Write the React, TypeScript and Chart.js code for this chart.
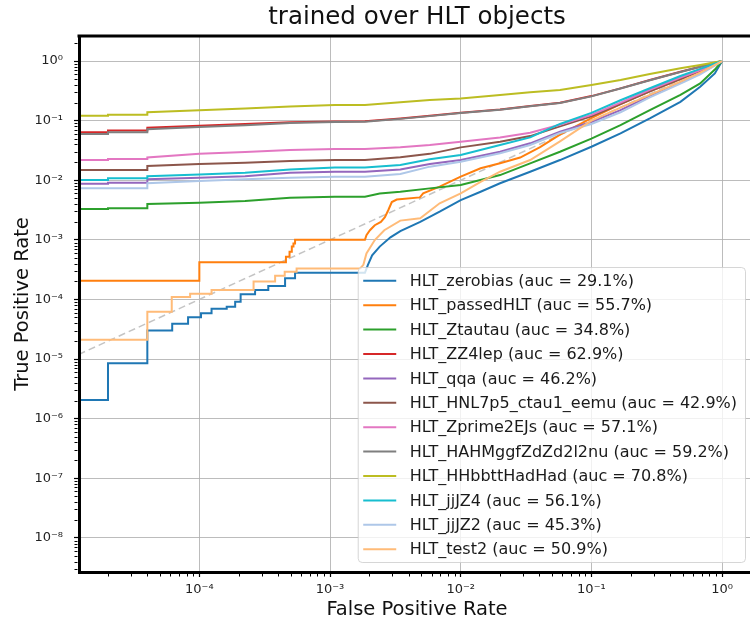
import React, { useEffect, useRef } from 'react';
import { Chart, registerables } from 'chart.js';

Chart.register(...registerables);

type Pt = [number, number];

// ---- data: ROC curves, [false positive rate, true positive rate] ----
const zerobias: Pt[] = [
  [1e-5, 2.05e-6], [2e-5, 2.05e-6], [2e-5, 8.5e-6], [4e-5, 8.5e-6], [4e-5, 3.0e-5],
  [6.2e-5, 3.0e-5], [6.2e-5, 3.9e-5], [8.2e-5, 3.9e-5], [8.2e-5, 5.0e-5], [1.03e-4, 5.0e-5],
  [1.03e-4, 5.85e-5], [1.24e-4, 5.85e-5], [1.24e-4, 7.0e-5], [1.62e-4, 7.0e-5], [1.62e-4, 7.55e-5],
  [1.88e-4, 7.55e-5], [1.88e-4, 9.15e-5], [2.07e-4, 9.15e-5], [2.07e-4, 1.22e-4], [2.67e-4, 1.22e-4],
  [2.67e-4, 1.44e-4], [3.37e-4, 1.44e-4], [3.37e-4, 1.68e-4], [4.53e-4, 1.68e-4], [4.53e-4, 2.26e-4],
  [5.4e-4, 2.26e-4], [5.4e-4, 2.8e-4], [1.85e-3, 2.8e-4], [1.95e-3, 3.8e-4], [2.1e-3, 5.5e-4],
  [2.4e-3, 7.7e-4], [2.9e-3, 1.1e-3], [3.45e-3, 1.4e-3], [4.9e-3, 2.0e-3], [6.9e-3, 2.96e-3],
  [1e-2, 4.65e-3], [1.42e-2, 6.4e-3], [2e-2, 8.9e-3], [3.4e-2, 1.39e-2], [5.75e-2, 2.18e-2],
  [0.1, 3.65e-2], [0.167, 6.1e-2], [0.28, 0.109], [0.48, 0.207], [0.68, 0.37], [0.88, 0.62], [1, 1],
];
const passedHLT: Pt[] = [
  [1e-5, 2.06e-4], [1e-4, 2.06e-4], [1e-4, 4.2e-4], [4.6e-4, 4.2e-4], [4.6e-4, 5.2e-4],
  [4.9e-4, 5.2e-4], [4.9e-4, 6.3e-4], [5.1e-4, 6.3e-4], [5.1e-4, 7.7e-4], [5.25e-4, 7.7e-4],
  [5.25e-4, 8.7e-4], [5.4e-4, 8.7e-4], [5.4e-4, 1.0e-3], [1.85e-3, 1.0e-3], [1.9e-3, 1.2e-3],
  [2.02e-3, 1.45e-3], [2.2e-3, 1.76e-3], [2.45e-3, 2.0e-3], [2.63e-3, 2.4e-3], [2.8e-3, 3.2e-3],
  [2.97e-3, 4.3e-3], [3.24e-3, 4.75e-3], [4.87e-3, 5.15e-3], [5.16e-3, 6.0e-3], [6.9e-3, 7.8e-3],
  [1e-2, 1.15e-2], [1.42e-2, 1.59e-2], [2e-2, 1.93e-2], [2.85e-2, 2.4e-2], [4.05e-2, 3.6e-2],
  [5.75e-2, 5.8e-2], [0.1, 0.11], [0.167, 0.19], [0.28, 0.31], [0.48, 0.5], [0.68, 0.69], [1, 1],
];
const Ztautau: Pt[] = [
  [1e-5, 3.3e-3], [2e-5, 3.3e-3], [2e-5, 3.4e-3], [4e-5, 3.4e-3], [4e-5, 4.0e-3], [1e-4, 4.2e-3],
  [2.24e-4, 4.5e-3], [4.94e-4, 5.1e-3], [1.09e-3, 5.3e-3], [1.85e-3, 5.3e-3], [2.4e-3, 6.0e-3],
  [3.45e-3, 6.4e-3], [5.8e-3, 7.3e-3], [1e-2, 8.3e-3], [2e-2, 1.22e-2], [3.4e-2, 1.92e-2],
  [5.75e-2, 3.0e-2], [0.1, 5.0e-2], [0.167, 8.4e-2], [0.28, 0.15], [0.48, 0.27], [0.68, 0.42],
  [0.88, 0.72], [1, 1],
];
const ZZ4lep: Pt[] = [
  [1e-5, 0.0636], [2e-5, 0.0636], [2e-5, 0.068], [4e-5, 0.068], [4e-5, 0.076], [1e-4, 0.082],
  [2.24e-4, 0.0876], [4.94e-4, 0.094], [1.09e-3, 0.097], [1.85e-3, 0.098], [3.45e-3, 0.109],
  [5.8e-3, 0.121], [1e-2, 0.136], [2e-2, 0.154], [3.4e-2, 0.176], [5.75e-2, 0.2], [0.1, 0.258],
  [0.167, 0.348], [0.28, 0.48], [0.48, 0.66], [0.68, 0.8], [1, 1],
];
const qqa: Pt[] = [
  [1e-5, 0.0087], [2e-5, 0.0087], [2e-5, 0.0091], [4e-5, 0.0091], [4e-5, 0.0104], [1e-4, 0.011],
  [2.24e-4, 0.0117], [4.94e-4, 0.0134], [1.09e-3, 0.0139], [1.85e-3, 0.0139], [3.45e-3, 0.0152],
  [5.8e-3, 0.0187], [1e-2, 0.0218], [2e-2, 0.03], [3.4e-2, 0.0416], [5.75e-2, 0.065], [0.1, 0.095],
  [0.167, 0.15], [0.28, 0.26], [0.48, 0.44], [0.68, 0.62], [1, 1],
];
const HNL7p5: Pt[] = [
  [1e-5, 0.0148], [4e-5, 0.0148], [4e-5, 0.0173], [1e-4, 0.0187], [2.24e-4, 0.0196], [4.94e-4, 0.021],
  [1.09e-3, 0.0218], [1.85e-3, 0.0218], [3.45e-3, 0.0242], [5.8e-3, 0.0277], [1e-2, 0.0356],
  [2e-2, 0.0443], [3.4e-2, 0.055], [5.75e-2, 0.08], [0.1, 0.118], [0.167, 0.19], [0.28, 0.31],
  [0.48, 0.5], [0.68, 0.68], [1, 1],
];
const Zprime2EJs: Pt[] = [
  [1e-5, 0.0218], [2e-5, 0.0218], [2e-5, 0.0226], [4e-5, 0.0226], [4e-5, 0.0241], [1e-4, 0.0277],
  [2.24e-4, 0.0297], [4.94e-4, 0.0321], [1.09e-3, 0.0334], [1.85e-3, 0.0334], [3.45e-3, 0.0356],
  [5.8e-3, 0.039], [1e-2, 0.0443], [2e-2, 0.0523], [3.4e-2, 0.0627], [5.75e-2, 0.085], [0.1, 0.125],
  [0.167, 0.2], [0.28, 0.33], [0.48, 0.53], [0.68, 0.7], [1, 1],
];
const HAHMggfZdZd: Pt[] = [
  [1e-5, 0.0595], [2e-5, 0.0595], [2e-5, 0.064], [4e-5, 0.064], [4e-5, 0.072], [1e-4, 0.078],
  [2.24e-4, 0.084], [4.94e-4, 0.091], [1.09e-3, 0.095], [1.85e-3, 0.096], [3.45e-3, 0.107],
  [5.8e-3, 0.119], [1e-2, 0.134], [2e-2, 0.152], [3.4e-2, 0.174], [5.75e-2, 0.198], [0.1, 0.255],
  [0.167, 0.345], [0.28, 0.475], [0.48, 0.655], [0.68, 0.8], [1, 1],
];
const HHbbttHadHad: Pt[] = [
  [1e-5, 0.121], [2e-5, 0.121], [2e-5, 0.125], [4e-5, 0.125], [4e-5, 0.138], [1e-4, 0.15],
  [2.24e-4, 0.16], [4.94e-4, 0.172], [1.09e-3, 0.183], [1.85e-3, 0.183], [3.45e-3, 0.203],
  [5.8e-3, 0.221], [1e-2, 0.236], [2e-2, 0.269], [3.4e-2, 0.298], [5.75e-2, 0.326], [0.1, 0.395],
  [0.167, 0.48], [0.28, 0.605], [0.48, 0.754], [0.68, 0.857], [1, 1],
];
const jjJZ4: Pt[] = [
  [1e-5, 0.0101], [2e-5, 0.0101], [2e-5, 0.0108], [4e-5, 0.0108], [4e-5, 0.0117], [1e-4, 0.0125],
  [2.24e-4, 0.0134], [4.94e-4, 0.0152], [1.09e-3, 0.0163], [1.85e-3, 0.0163], [3.45e-3, 0.018],
  [5.8e-3, 0.0224], [1e-2, 0.0265], [2e-2, 0.039], [3.4e-2, 0.0523], [5.75e-2, 0.088], [0.1, 0.135],
  [0.167, 0.22], [0.28, 0.35], [0.48, 0.56], [0.68, 0.74], [1, 1],
];
const jjJZ2: Pt[] = [
  [1e-5, 0.0073], [4e-5, 0.0073], [4e-5, 0.0089], [1e-4, 0.0097], [2.24e-4, 0.0104], [4.94e-4, 0.011],
  [1.09e-3, 0.0114], [1.85e-3, 0.0114], [3.45e-3, 0.0127], [5.8e-3, 0.0169], [1e-2, 0.0205],
  [2e-2, 0.0283], [3.4e-2, 0.039], [5.75e-2, 0.062], [0.1, 0.088], [0.167, 0.138], [0.28, 0.245],
  [0.48, 0.42], [0.68, 0.6], [1, 1],
];
const test2: Pt[] = [
  [1e-5, 2.1e-5], [4e-5, 2.1e-5], [4e-5, 6.2e-5], [6.15e-5, 6.2e-5], [6.15e-5, 1.1e-4], [8.5e-5, 1.1e-4],
  [8.5e-5, 1.25e-4], [1.24e-4, 1.25e-4], [1.24e-4, 1.44e-4], [2.6e-4, 1.44e-4], [2.6e-4, 2.0e-4],
  [3.8e-4, 2.0e-4], [3.8e-4, 2.5e-4], [4.5e-4, 2.5e-4], [4.5e-4, 2.9e-4], [5.55e-4, 2.9e-4],
  [5.55e-4, 3.3e-4], [1.7e-3, 3.3e-4], [1.8e-3, 3.8e-4], [1.9e-3, 5.9e-4], [2.2e-3, 9.9e-4],
  [2.6e-3, 1.45e-3], [3.45e-3, 2.1e-3], [4.9e-3, 2.3e-3], [6.9e-3, 4.1e-3], [1e-2, 6.0e-3],
  [1.42e-2, 9.4e-3], [2e-2, 1.39e-2], [3.4e-2, 2.18e-2], [5.75e-2, 4.5e-2], [0.1, 0.1],
  [0.167, 0.165], [0.28, 0.27], [0.48, 0.45], [0.68, 0.64], [1, 1],
];
const chanceLine: Pt[] = [[1e-5, 1e-5], [1, 1]];

const triggerNames = [
  'HLT_zerobias', 'HLT_passedHLT', 'HLT_Ztautau', 'HLT_ZZ4lep', 'HLT_qqa', 'HLT_HNL7p5_ctau1_eemu',
  'HLT_Zprime2EJs', 'HLT_HAHMggfZdZd2l2nu', 'HLT_HHbbttHadHad', 'HLT_jjJZ4', 'HLT_jjJZ2', 'HLT_test2',
];
const aucPercent = [29.1, 55.7, 34.8, 62.9, 46.2, 42.9, 57.1, 59.2, 70.8, 56.1, 45.3, 50.9];
const rocCurves = [zerobias, passedHLT, Ztautau, ZZ4lep, qqa, HNL7p5, Zprime2EJs, HAHMggfZdZd, HHbbttHadHad, jjJZ4, jjJZ2, test2];

const xTickExponents = [-5, -4, -3, -2, -1, 0];
const yTickExponents = [-9, -8, -7, -6, -5, -4, -3, -2, -1, 0];
const X_MIN = 1.2e-5;
const X_MAX = 1.786;
const Y_MIN = 2.67e-9;
const Y_MAX = 2.63;

const TITLE = 'trained over HLT objects';
const X_LABEL = 'False Positive Rate';
const Y_LABEL = 'True Positive Rate';

// ---- styles ----
const lineColors = ['#1f77b4', '#ff7f0e', '#2ca02c', '#d62728', '#9467bd', '#8c564b', '#e377c2', '#7f7f7f', '#bcbd22', '#17becf', '#aec7e8', '#ffbb78'];
const FONT = "'DejaVu Sans', 'Liberation Sans', sans-serif";
const GRID = 'rgba(176,176,176,0.85)';

const SUP: Record<string, string> = { '-': '\u207B', '0': '\u2070', '1': '\u00B9', '2': '\u00B2', '3': '\u00B3', '4': '\u2074', '5': '\u2075', '6': '\u2076', '7': '\u2077', '8': '\u2078', '9': '\u2079' };
const isDecade = (v: number) => {
  const l = Math.log10(v);
  return Math.abs(l - Math.round(l)) < 1e-9;
};
const decadeLabel = (v: number) => (isDecade(v) ? '10' + String(Math.round(Math.log10(v))).split('').map((c) => SUP[c]).join('') : '');
const buildTicks = (exps: number[], min: number, max: number) => {
  const out: { value: number }[] = [];
  exps.forEach((e) => {
    for (let k = 1; k <= 9; k++) {
      const v = parseFloat((k * Math.pow(10, e)).toPrecision(6));
      if (v >= min && v <= max) out.push({ value: v });
    }
  });
  return out;
};

const framePlugin = {
  id: 'frame',
  afterDatasetsDraw(chart: any) {
    const { ctx, chartArea: a, scales } = chart;
    ctx.save();
    ctx.strokeStyle = '#000';
    ctx.lineWidth = 1;
    scales.x.ticks.forEach((t: any) => {
      if (isDecade(t.value)) return;
      const p = Math.round(scales.x.getPixelForValue(t.value)) + 0.5;
      ctx.beginPath();
      ctx.moveTo(p, a.bottom + 1.5);
      ctx.lineTo(p, a.bottom + 4.5);
      ctx.stroke();
    });
    scales.y.ticks.forEach((t: any) => {
      if (isDecade(t.value)) return;
      const p = Math.round(scales.y.getPixelForValue(t.value)) + 0.5;
      ctx.beginPath();
      ctx.moveTo(a.left - 1.5, p);
      ctx.lineTo(a.left - 4.5, p);
      ctx.stroke();
    });
    ctx.lineWidth = 3;
    ctx.beginPath();
    ctx.moveTo(a.left - 1.5, a.top);
    ctx.lineTo(a.right + 1.5, a.top);
    ctx.stroke();
    ctx.restore();
  },
};

const boxLegendPlugin = {
  id: 'boxLegend',
  afterDraw(chart: any) {
    const { ctx, chartArea: a } = chart;
    const items = chart.data.datasets.filter((d: any) => !d.isChance);
    const rowH = 24.4;
    const pad = 13.3;
    ctx.save();
    ctx.font = `16px ${FONT}`;
    const textW = Math.max(...items.map((d: any) => ctx.measureText(d.label).width));
    const w = 5 + 33 + 13.5 + textW + 8.5;
    const h = pad * 2 + rowH * (items.length - 1);
    const right = a.right - 9.5;
    const bottom = a.bottom - 9.5;
    const left = right - w;
    const top = bottom - h;
    const r = 4;
    ctx.beginPath();
    ctx.moveTo(left + r, top);
    ctx.lineTo(right - r, top);
    ctx.quadraticCurveTo(right, top, right, top + r);
    ctx.lineTo(right, bottom - r);
    ctx.quadraticCurveTo(right, bottom, right - r, bottom);
    ctx.lineTo(left + r, bottom);
    ctx.quadraticCurveTo(left, bottom, left, bottom - r);
    ctx.lineTo(left, top + r);
    ctx.quadraticCurveTo(left, top, left + r, top);
    ctx.closePath();
    ctx.fillStyle = 'rgba(255,255,255,0.8)';
    ctx.fill();
    ctx.strokeStyle = 'rgba(204,204,204,0.8)';
    ctx.lineWidth = 1;
    ctx.stroke();
    ctx.textBaseline = 'middle';
    ctx.textAlign = 'left';
    items.forEach((d: any, i: number) => {
      const y = top + pad + i * rowH;
      ctx.strokeStyle = d.borderColor;
      ctx.lineWidth = 2;
      ctx.beginPath();
      ctx.moveTo(left + 5, y);
      ctx.lineTo(left + 38, y);
      ctx.stroke();
      ctx.fillStyle = '#1a1a1a';
      ctx.fillText(d.label, left + 51.5, y + 1);
    });
    ctx.restore();
  },
};

export default function App() {
  const canvasRef = useRef<HTMLCanvasElement | null>(null);

  useEffect(() => {
    if (!canvasRef.current) return;
    Chart.defaults.font.family = FONT;

    const datasets: any[] = [
      {
        label: 'chance',
        isChance: true,
        data: chanceLine.map(([x, y]) => ({ x, y })),
        borderColor: 'rgba(190,190,190,0.9)',
        borderDash: [7, 4],
        borderWidth: 1.5,
        pointRadius: 0,
        order: 100,
      },
      ...rocCurves.map((curve, i) => ({
        label: `${triggerNames[i]} (auc = ${aucPercent[i].toFixed(1)}%)`,
        data: curve.map(([x, y]) => ({ x, y })),
        borderColor: lineColors[i],
        borderWidth: 2,
        pointRadius: 0,
        tension: 0,
        fill: false,
        order: 50 - i,
      })),
    ];

    const chart = new Chart(canvasRef.current, {
      type: 'line',
      data: { datasets },
      plugins: [framePlugin, boxLegendPlugin],
      options: {
        animation: false,
        responsive: false,
        devicePixelRatio: 1,
        layout: { padding: { top: 0, left: 0, right: 5, bottom: 0 } },
        plugins: {
          legend: { display: false },
          tooltip: { enabled: false },
          title: {
            display: true,
            text: TITLE,
            fullSize: false,
            color: '#111',
            font: { size: 24.5, weight: 'normal', family: FONT, lineHeight: 1.2 },
            padding: { top: 3, bottom: 3.6 },
          },
        },
        scales: {
          x: {
            type: 'logarithmic',
            min: X_MIN,
            max: X_MAX,
            afterBuildTicks: (s: any) => {
              s.ticks = buildTicks(xTickExponents, X_MIN, X_MAX);
            },
            afterFit: (s: any) => {
              s.height = 48;
            },
            ticks: {
              autoSkip: false,
              maxRotation: 0,
              minRotation: 0,
              padding: 5,
              color: '#222',
              font: { size: 13, family: FONT },
              callback: (v: any) => decadeLabel(Number(v)),
            },
            grid: {
              color: (c: any) => (c.tick && isDecade(c.tick.value) ? GRID : 'rgba(0,0,0,0)'),
              lineWidth: 1,
              tickLength: 5,
              tickWidth: 1.2,
              tickColor: (c: any) => (c.tick && isDecade(c.tick.value) ? '#000' : 'rgba(0,0,0,0)'),
            },
            border: { display: true, color: '#000', width: 3, z: 1 },
            title: {
              display: true,
              text: X_LABEL,
              color: '#111',
              font: { size: 19.5, family: FONT, lineHeight: 1 },
              padding: { top: 0, bottom: 0 },
            },
          },
          y: {
            type: 'logarithmic',
            min: Y_MIN,
            max: Y_MAX,
            afterBuildTicks: (s: any) => {
              s.ticks = buildTicks(yTickExponents, Y_MIN, Y_MAX);
            },
            afterFit: (s: any) => {
              s.width = 79;
            },
            ticks: {
              autoSkip: false,
              padding: 11,
              color: '#222',
              font: { size: 13, family: FONT },
              callback: (v: any) => decadeLabel(Number(v)),
            },
            grid: {
              color: (c: any) => (c.tick && isDecade(c.tick.value) ? GRID : 'rgba(0,0,0,0)'),
              lineWidth: 1,
              tickLength: 5,
              tickWidth: 1.2,
              tickColor: (c: any) => (c.tick && isDecade(c.tick.value) ? '#000' : 'rgba(0,0,0,0)'),
            },
            border: { display: true, color: '#000', width: 3, z: 1 },
            title: {
              display: true,
              text: Y_LABEL,
              color: '#111',
              font: { size: 19.5, family: FONT, lineHeight: 1 },
              padding: { top: 13, bottom: 0 },
            },
          },
        },
      } as any,
    });

    return () => chart.destroy();
  }, []);

  return (
    <div style={{ position: 'absolute', left: 0, top: 0, width: 750, height: 620, overflow: 'hidden', background: '#fff' }}>
      <canvas ref={canvasRef} width={760} height={620} style={{ display: 'block' }} />
    </div>
  );
}
